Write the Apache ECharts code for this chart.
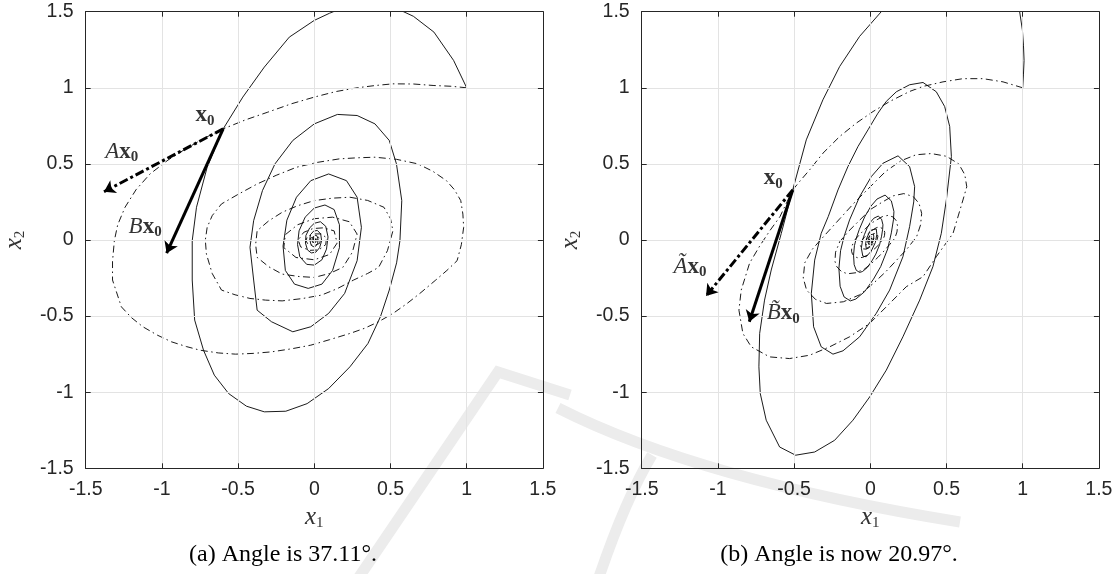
<!DOCTYPE html>
<html><head><meta charset="utf-8">
<script src="https://cdn.jsdelivr.net/npm/echarts@6/dist/echarts.min.js"></script>
<style>html,body{margin:0;padding:0;background:#fff}#c{width:1116px;height:574px}</style>
</head><body><div id="c"></div>
<script>
// ---------- data ----------
const tickValues = [-1.5, -1, -0.5, 0, 0.5, 1, 1.5];
const captionA = '(a) Angle is 37.11°.';
const captionB = '(b) Angle is now 20.97°.';

const solidA = [[1.0,1.0],[0.914,1.18],[0.785,1.366],[0.65,1.47],[0.5,1.54],[0.35,1.565],[0.2,1.53],[0.1,1.49],[0.0,1.443],[-0.164,1.333],[-0.328,1.136],[-0.469,0.939],[-0.598,0.73],[-0.703,0.478],[-0.773,0.215],[-0.801,-0.004],[-0.801,-0.263],[-0.785,-0.526],[-0.727,-0.724],[-0.656,-0.888],[-0.562,-1.009],[-0.445,-1.092],[-0.328,-1.129],[-0.187,-1.125],[-0.047,-1.075],[0.094,-0.976],[0.234,-0.833],[0.352,-0.68],[0.434,-0.504],[0.492,-0.329],[0.54,-0.15],[0.562,-0.004],[0.574,0.259],[0.539,0.5],[0.492,0.654],[0.398,0.763],[0.281,0.818],[0.152,0.825],[0.0,0.763],[-0.141,0.654],[-0.258,0.5],[-0.34,0.325],[-0.398,0.127],[-0.422,-0.048],[-0.398,-0.263],[-0.375,-0.461],[-0.281,-0.537],[-0.141,-0.603],[-0.023,-0.57],[0.094,-0.482],[0.199,-0.351],[0.281,-0.136],[0.309,0.083],[0.281,0.281],[0.211,0.39],[0.094,0.434],[-0.023,0.39],[-0.117,0.281],[-0.18,0.13],[-0.205,-0.04],[-0.19,-0.2],[-0.13,-0.29],[-0.04,-0.318],[0.05,-0.29],[0.12,-0.2],[0.165,-0.05],[0.165,0.1],[0.13,0.2],[0.07,0.23],[0.0,0.21],[-0.06,0.15],[-0.1,0.06],[-0.11,-0.03],[-0.095,-0.11],[-0.05,-0.16],[0.0,-0.165],[0.05,-0.13],[0.08,-0.06],[0.09,0.02],[0.075,0.09],[0.04,0.12],[0.0,0.11],[-0.03,0.08],[-0.055,0.03],[-0.058,-0.02],[-0.045,-0.065],[-0.02,-0.085],[0.01,-0.08],[0.035,-0.05],[0.048,-0.005],[0.042,0.04],[0.02,0.063],[-0.005,0.058],[-0.025,0.035],[-0.03,0.005],[-0.022,-0.03],[-0.008,-0.044],[0.01,-0.04],[0.022,-0.022],[0.025,0.005],[0.017,0.028],[0.003,0.032],[-0.01,0.02],[-0.015,0.002],[-0.012,-0.015],[0.0,-0.022],[0.01,-0.015],[0.012,0.0],[0.006,0.012],[-0.003,0.012],[-0.007,0.004],[-0.005,-0.006],[0.0,-0.01],[0.004,-0.005],[0.003,0.003],[0,0]];

const dashA = [[1.0,1.0],[0.9,1.01],[0.785,1.015],[0.65,1.025],[0.516,1.026],[0.4,1.015],[0.281,1.0],[0.14,0.975],[0.0,0.939],[-0.15,0.895],[-0.305,0.84],[-0.45,0.79],[-0.598,0.73],[-0.72,0.67],[-0.844,0.599],[-0.96,0.525],[-1.078,0.434],[-1.17,0.33],[-1.242,0.215],[-1.29,0.1],[-1.312,-0.004],[-1.324,-0.14],[-1.324,-0.263],[-1.266,-0.439],[-1.2,-0.51],[-1.125,-0.57],[-1.03,-0.625],[-0.937,-0.669],[-0.84,-0.7],[-0.75,-0.724],[-0.63,-0.742],[-0.516,-0.75],[-0.4,-0.745],[-0.281,-0.735],[-0.15,-0.715],[-0.023,-0.691],[0.1,-0.655],[0.234,-0.614],[0.33,-0.58],[0.422,-0.537],[0.52,-0.48],[0.609,-0.417],[0.7,-0.345],[0.797,-0.263],[0.87,-0.2],[0.937,-0.136],[0.965,-0.03],[0.98,0.083],[0.975,0.17],[0.961,0.259],[0.92,0.33],[0.867,0.39],[0.78,0.45],[0.68,0.5],[0.54,0.53],[0.398,0.544],[0.28,0.54],[0.164,0.533],[0.02,0.51],[-0.117,0.478],[-0.25,0.425],[-0.375,0.368],[-0.5,0.3],[-0.609,0.237],[-0.67,0.16],[-0.703,0.083],[-0.715,0.0],[-0.708,-0.092],[-0.67,-0.22],[-0.609,-0.329],[-0.52,-0.36],[-0.422,-0.384],[-0.32,-0.395],[-0.211,-0.4],[-0.08,-0.385],[0.047,-0.362],[0.15,-0.32],[0.258,-0.263],[0.35,-0.22],[0.422,-0.18],[0.48,-0.07],[0.516,0.061],[0.5,0.14],[0.457,0.215],[0.35,0.26],[0.234,0.281],[0.12,0.275],[0.0,0.259],[-0.11,0.225],[-0.211,0.182],[-0.3,0.125],[-0.375,0.061],[-0.385,-0.03],[-0.375,-0.114],[-0.3,-0.175],[-0.211,-0.224],[-0.1,-0.24],[0.0,-0.246],[0.1,-0.22],[0.187,-0.18],[0.25,-0.08],[0.281,0.039],[0.23,0.12],[0.12,0.15],[0.0,0.14],[-0.11,0.1],[-0.19,0.035],[-0.2,-0.05],[-0.12,-0.115],[0.0,-0.13],[0.1,-0.095],[0.15,-0.02],[0.13,0.06],[0.06,0.08],[-0.01,0.075],[-0.07,0.05],[-0.105,0.0],[-0.09,-0.045],[-0.03,-0.068],[0.03,-0.065],[0.075,-0.03],[0.08,0.015],[0.045,0.04],[0.0,0.04],[-0.045,0.025],[-0.055,-0.005],[-0.04,-0.03],[0.0,-0.036],[0.035,-0.022],[0.042,0.005],[0.025,0.02],[0.0,0.022],[-0.025,0.012],[-0.028,-0.004],[-0.015,-0.016],[0.005,-0.018],[0.018,-0.008],[0.02,0.004],[0.01,0.012],[-0.005,0.01],[-0.012,0.003],[-0.01,-0.006],[0,-0.009],[0.008,-0.004],[0.008,0.003],[0.002,0.005],[-0.004,0.002],[0,0]];

const solidB = [[1.0,1.0],[1.005,1.09],[1.009,1.18],[1.005,1.28],[0.998,1.38],[0.98,1.5],[0.95,1.65],[0.87,1.78],[0.75,1.87],[0.6,1.9],[0.45,1.86],[0.3,1.77],[0.18,1.63],[0.072,1.5],[-0.07,1.338],[-0.201,1.14],[-0.311,0.921],[-0.42,0.658],[-0.509,0.329],[-0.584,0.044],[-0.65,-0.197],[-0.694,-0.395],[-0.726,-0.614],[-0.731,-0.833],[-0.722,-1.009],[-0.683,-1.184],[-0.595,-1.36],[-0.49,-1.414],[-0.365,-1.393],[-0.234,-1.316],[-0.114,-1.184],[-0.004,-1.031],[0.105,-0.855],[0.214,-0.636],[0.324,-0.395],[0.411,-0.175],[0.466,0.044],[0.499,0.263],[0.532,0.548],[0.521,0.746],[0.488,0.877],[0.433,0.974],[0.346,1.035],[0.258,1.02],[0.171,0.974],[0.105,0.911],[0.05,0.833],[-0.015,0.724],[-0.081,0.614],[-0.147,0.482],[-0.212,0.329],[-0.276,0.154],[-0.322,0.044],[-0.365,-0.132],[-0.387,-0.351],[-0.372,-0.57],[-0.322,-0.702],[-0.245,-0.75],[-0.179,-0.728],[-0.07,-0.636],[0.039,-0.482],[0.127,-0.329],[0.214,-0.11],[0.258,0.088],[0.285,0.25],[0.291,0.351],[0.258,0.482],[0.182,0.553],[0.083,0.504],[0.007,0.417],[-0.07,0.285],[-0.136,0.132],[-0.172,0.023],[-0.195,-0.07],[-0.206,-0.187],[-0.198,-0.304],[-0.172,-0.374],[-0.131,-0.4],[-0.095,-0.388],[-0.037,-0.339],[0.021,-0.257],[0.068,-0.175],[0.114,-0.059],[0.138,0.047],[0.152,0.133],[0.155,0.187],[0.138,0.257],[0.097,0.295],[0.044,0.269],[0.004,0.222],[-0.037,0.152],[-0.072,0.07],[-0.092,0.012],[-0.104,-0.037],[-0.11,-0.1],[-0.106,-0.162],[-0.092,-0.199],[-0.07,-0.213],[-0.051,-0.207],[-0.02,-0.181],[0.011,-0.137],[0.036,-0.093],[0.061,-0.031],[0.074,0.025],[0.081,0.071],[0.083,0.1],[0.074,0.137],[0.052,0.157],[0.023,0.143],[0.002,0.118],[-0.02,0.081],[-0.038,0.037],[-0.049,0.006],[-0.059,-0.053],[-0.049,-0.106],[-0.027,-0.11],[0.006,-0.073],[0.033,-0.017],[0.043,0.038],[0.039,0.073],[0.028,0.084],[0.001,0.063],[-0.02,0.02],[-0.026,0.003],[-0.031,-0.028],[-0.026,-0.056],[-0.014,-0.059],[0.003,-0.039],[0.018,-0.009],[0.023,0.02],[0.021,0.039],[0.015,0.045],[0.001,0.034],[-0.011,0.011],[-0.014,0.0],[-0.016,-0.015],[-0.008,-0.031],[0.002,-0.021],[0.01,-0.005],[0.012,0.011],[0.008,0.024],[0.0,0.018],[-0.006,0.006],[-0.007,0],[-0.005,-0.012],[0.002,-0.01],[0.006,0.0],[0.004,0.01],[0,0.008],[-0.003,0.002],[0,0]];

const dashB = [[1.0,1.0],[0.871,1.039],[0.74,1.06],[0.608,1.06],[0.477,1.039],[0.346,1.009],[0.258,0.976],[0.127,0.91],[0.018,0.844],[-0.092,0.768],[-0.201,0.68],[-0.311,0.57],[-0.398,0.461],[-0.464,0.384],[-0.509,0.329],[-0.593,0.153],[-0.66,0.06],[-0.726,-0.04],[-0.792,-0.152],[-0.847,-0.329],[-0.862,-0.461],[-0.836,-0.614],[-0.781,-0.702],[-0.661,-0.768],[-0.53,-0.779],[-0.398,-0.757],[-0.267,-0.702],[-0.136,-0.636],[-0.004,-0.548],[0.127,-0.417],[0.236,-0.307],[0.346,-0.241],[0.433,-0.11],[0.543,0.044],[0.608,0.263],[0.633,0.35],[0.62,0.43],[0.58,0.5],[0.5,0.55],[0.4,0.568],[0.3,0.56],[0.2,0.52],[0.1,0.45],[0.0,0.35],[-0.1,0.25],[-0.2,0.14],[-0.3,0.03],[-0.38,-0.06],[-0.43,-0.15],[-0.44,-0.25],[-0.418,-0.329],[-0.36,-0.39],[-0.287,-0.417],[-0.177,-0.406],[-0.07,-0.36],[0.02,-0.285],[0.1,-0.21],[0.173,-0.132],[0.24,-0.06],[0.304,0.022],[0.33,0.1],[0.337,0.175],[0.32,0.24],[0.282,0.285],[0.22,0.305],[0.15,0.29],[0.08,0.25],[0.0,0.2],[-0.07,0.13],[-0.14,0.06],[-0.2,-0.01],[-0.228,-0.08],[-0.232,-0.14],[-0.22,-0.175],[-0.19,-0.207],[-0.15,-0.222],[-0.094,-0.215],[-0.037,-0.19],[0.011,-0.151],[0.053,-0.111],[0.092,-0.07],[0.127,-0.03],[0.161,0.012],[0.175,0.053],[0.179,0.093],[0.17,0.127],[0.15,0.151],[0.117,0.162],[0.08,0.154],[0.042,0.132],[0.0,0.106],[-0.037,0.069],[-0.074,0.032],[-0.106,-0.005],[-0.121,-0.042],[-0.123,-0.074],[-0.117,-0.093],[-0.1,-0.11],[-0.08,-0.118],[-0.05,-0.114],[-0.02,-0.1],[0.006,-0.08],[0.028,-0.059],[0.049,-0.037],[0.067,-0.016],[0.085,0.006],[0.093,0.028],[0.095,0.049],[0.09,0.067],[0.08,0.08],[0.062,0.086],[0.042,0.082],[0.022,0.07],[0.0,0.056],[-0.02,0.037],[-0.039,0.017],[-0.056,-0.003],[-0.064,-0.022],[-0.065,-0.039],[-0.062,-0.05],[-0.053,-0.058],[-0.042,-0.063],[-0.027,-0.06],[-0.011,-0.053],[0.003,-0.042],[0.015,-0.031],[0.026,-0.02],[0.036,-0.008],[0.045,0.003],[0.049,0.015],[0.05,0.026],[0.048,0.036],[0.042,0.042],[0.033,0.046],[0.022,0.043],[0.012,0.037],[0,0.03],[-0.011,0.02],[-0.021,0.009],[-0.03,-0.002],[-0.034,-0.012],[-0.034,-0.021],[-0.028,-0.031],[-0.014,-0.032],[0.0,-0.024],[0.014,-0.011],[0.024,0.002],[0.026,0.014],[0.022,0.022],[0.012,0.023],[0.0,0.016],[-0.011,0.005],[-0.016,-0.006],[-0.015,-0.013],[-0.007,-0.017],[0.001,-0.013],[0.008,-0.006],[0.013,0.001],[0.011,0.009],[0.006,0.012],[0,0.009],[-0.006,0.003],[-0.008,-0.003],[-0.004,-0.008],[0.001,-0.006],[0.005,0],[0.004,0.004],[0,0.003],[0,0]];

// arrows: start point x0 and the two vectors' tips
const x0A = [-0.598, 0.73];
const AxA = [-1.38, 0.317];
const BxA = [-0.969, -0.087];
const x0B = [-0.509, 0.329];
const AxB = [-1.078, -0.368];
const BxB = [-0.794, -0.537];
// label anchor points (data coordinates)
const labelsA = [
  {value: [-0.717, 0.82], t: '{bx|x}{sub|0}'},
  {value: [-1.264, 0.58], t: '{it|A}{bx|x}{sub|0}'},
  {value: [-1.11, 0.087], t: '{it|B}{bx|x}{sub|0}'}
];
const labelsB = [
  {value: [-0.636, 0.405], t: '{bx|x}{sub|0}'},
  {value: [-1.183, -0.175], t: '{it|Ã}{bx|x}{sub|0}'},
  {value: [-0.571, -0.482], t: '{it|B\u0303}{bx|x}{sub|0}'}
];

// ---------- chart ----------
const AX = '#262626';
const GRIDC = '#e3e3e3';
const WM = '#ececec';
const tickFont = {fontFamily: 'Liberation Sans', fontSize: 19.5, color: AX};
const mathRich = {
  it: {fontFamily: 'Liberation Serif', fontStyle: 'italic', fontSize: 23, color: '#000', lineHeight: 26},
  bx: {fontFamily: 'Liberation Serif', fontWeight: 'bold', fontSize: 23, color: '#000', lineHeight: 26},
  sub: {fontFamily: 'Liberation Serif', fontWeight: 'bold', fontSize: 15, color: '#000', lineHeight: 15, verticalAlign: 'bottom'}
};
const nameRich = {
  i: {fontFamily: 'Liberation Serif', fontStyle: 'italic', fontSize: 25, color: '#333', lineHeight: 26},
  s: {fontFamily: 'Liberation Serif', fontSize: 15, color: '#333', lineHeight: 15, verticalAlign: 'bottom'}
};

function mainX(gi) {
  return {
    type: 'value', gridIndex: gi, min: tickValues[0], max: tickValues[tickValues.length - 1], interval: 0.5,
    position: 'bottom', z: 4,
    name: '{i|x}{s|1}', nameLocation: 'middle', nameGap: 36, nameTextStyle: {rich: nameRich},
    axisLine: {show: true, onZero: false, lineStyle: {color: AX, width: 1}},
    axisTick: {show: true, inside: true, length: 5, lineStyle: {color: AX}},
    axisLabel: Object.assign({margin: 11}, tickFont),
    splitLine: {show: true, lineStyle: {color: GRIDC, width: 1}}
  };
}
function mainY(gi) {
  return {
    type: 'value', gridIndex: gi, min: tickValues[0], max: tickValues[tickValues.length - 1], interval: 0.5,
    position: 'left', z: 4,
    name: '{i|x}{s|2}', nameLocation: 'middle', nameGap: 58, nameRotate: 90, nameTextStyle: {rich: nameRich},
    axisLine: {show: true, onZero: false, lineStyle: {color: AX, width: 1}},
    axisTick: {show: true, inside: true, length: 5, lineStyle: {color: AX}},
    axisLabel: Object.assign({margin: 12}, tickFont),
    splitLine: {show: true, lineStyle: {color: GRIDC, width: 1}}
  };
}
function boxAxis(gi, pos) {
  return {
    type: 'value', gridIndex: gi, min: -1.5, max: 1.5, interval: 0.5, position: pos, z: 4,
    axisLine: {show: true, onZero: false, lineStyle: {color: AX, width: 1}},
    axisTick: {show: true, inside: true, length: 5, lineStyle: {color: AX}},
    axisLabel: {show: false}, splitLine: {show: false}
  };
}

function curve(data, gi, dashed) {
  return {
    type: 'line', xAxisIndex: gi * 2, yAxisIndex: gi * 2, data: data,
    showSymbol: false, symbol: 'none', clip: true, silent: true, animation: false, z: 3,
    lineStyle: {color: '#000', width: 0.9, type: dashed ? [7, 3.5, 1.5, 3.5] : 'solid'}
  };
}
function arrow(from, to, gi, dashed) {
  return {
    type: 'lines', coordinateSystem: 'cartesian2d', xAxisIndex: gi * 2, yAxisIndex: gi * 2,
    symbol: ['none', 'arrow'], symbolSize: [8, 11], animation: false, silent: true, z: 5,
    lineStyle: {color: '#000', width: 3, opacity: 1, type: dashed ? [9, 3, 3, 3] : 'solid'},
    data: [{coords: [from, to]}]
  };
}
function labels(list, gi) {
  return {
    type: 'scatter', xAxisIndex: gi * 2, yAxisIndex: gi * 2, symbolSize: 0.1, silent: true, animation: false, z: 6,
    itemStyle: {color: 'rgba(0,0,0,0)'},
    data: list.map(d => ({value: d.value, t: d.t})),
    label: {show: true, position: 'inside', formatter: p => p.data.t, rich: mathRich}
  };
}

const chart = echarts.init(document.getElementById('c'), null, {renderer: 'canvas'});
chart.setOption({
  backgroundColor: '#fff',
  animation: false,
  grid: [
    {left: 85.7, top: 11.7, width: 457.2, height: 456.6},
    {left: 641.7, top: 11.7, width: 457.2, height: 456.6}
  ],
  xAxis: [mainX(0), boxAxis(0, 'top'), mainX(1), boxAxis(1, 'top')],
  yAxis: [mainY(0), boxAxis(0, 'right'), mainY(1), boxAxis(1, 'right')],
  graphic: [
    // faint background watermark strokes
    {type: 'polyline', z: -10, silent: true, shape: {points: [[357, 580], [498, 372], [570, 395]]},
      style: {stroke: WM, lineWidth: 11, fill: null, lineJoin: 'miter'}},
    {type: 'bezierCurve', z: -10, silent: true, shape: {x1: 558, y1: 408, cpx1: 700, cpy1: 480, x2: 960, y2: 522},
      style: {stroke: WM, lineWidth: 11, fill: null}},
    {type: 'bezierCurve', z: -10, silent: true, shape: {x1: 652, y1: 455, cpx1: 625, cpy1: 500, x2: 598, y2: 580},
      style: {stroke: WM, lineWidth: 11, fill: null}},
    {type: 'text', z: 10, x: 283, y: 555, style: {text: captionA, fontFamily: 'Liberation Serif', fontSize: 24, fill: '#000', align: 'center', verticalAlign: 'middle'}},
    {type: 'text', z: 10, x: 839, y: 555, style: {text: captionB, fontFamily: 'Liberation Serif', fontSize: 24, fill: '#000', align: 'center', verticalAlign: 'middle'}}
  ],
  series: [
    curve(solidA, 0, false), curve(dashA, 0, true),
    arrow(x0A, AxA, 0, true), arrow(x0A, BxA, 0, false), labels(labelsA, 0),
    curve(solidB, 1, false), curve(dashB, 1, true),
    arrow(x0B, AxB, 1, true), arrow(x0B, BxB, 1, false), labels(labelsB, 1)
  ]
});
</script></body></html>
